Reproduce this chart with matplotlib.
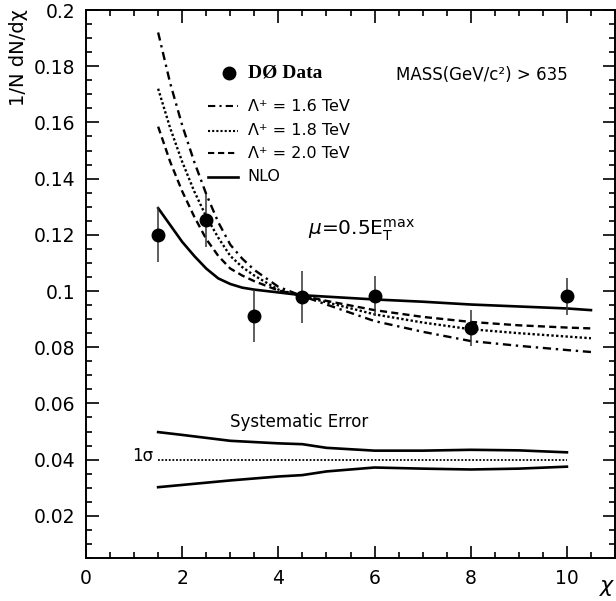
import matplotlib.pyplot as plt
import numpy as np

# D0 data points
chi_data = [1.5, 2.5, 3.5, 4.5, 6.0, 8.0, 10.0]
dndchi = [0.120, 0.1252, 0.0912, 0.0980, 0.0982, 0.0870, 0.0981]
dndchi_err = [0.0098, 0.0095, 0.0092, 0.0093, 0.0072, 0.0064, 0.0066]

# theory curves
chi_th = [1.5, 1.75, 2.0, 2.25, 2.5, 2.75, 3.0, 3.25, 3.5, 4.0, 4.5, 5.0, 6.0, 7.0, 8.0, 9.0, 10.0, 10.5]
lam16 = [0.192, 0.174, 0.159, 0.146, 0.1345, 0.1245, 0.1165, 0.1115, 0.1075, 0.1015, 0.0982, 0.0952, 0.0893, 0.0855, 0.0822, 0.0805, 0.0790, 0.0783]
lam18 = [0.172, 0.158, 0.146, 0.1355, 0.1265, 0.119, 0.1125, 0.1085, 0.1055, 0.1005, 0.0982, 0.0960, 0.0917, 0.0888, 0.0864, 0.0850, 0.0838, 0.0832]
lam20 = [0.1585, 0.146, 0.1355, 0.1265, 0.1185, 0.1125, 0.108, 0.1055, 0.1035, 0.1002, 0.0983, 0.0965, 0.0932, 0.0908, 0.0890, 0.0878, 0.0870, 0.0867]
nlo = [0.1295, 0.1235, 0.1175, 0.1125, 0.1080, 0.1045, 0.1025, 0.1012, 0.1005, 0.0995, 0.0985, 0.0980, 0.0970, 0.0962, 0.0952, 0.0945, 0.0938, 0.0932]

# systematic error band (drawn around 0.04)
chi_sys = [1.5, 2.0, 3.0, 4.0, 4.5, 5.0, 6.0, 7.0, 8.0, 9.0, 10.0]
sys_up = [0.0498, 0.0488, 0.0467, 0.0458, 0.0455, 0.0442, 0.0432, 0.0432, 0.0435, 0.0433, 0.0426]
sys_lo = [0.0302, 0.0310, 0.0326, 0.0340, 0.0345, 0.0358, 0.0372, 0.0368, 0.0365, 0.0368, 0.0375]
sys_center = 0.04

fig = plt.figure(figsize=(6.16, 6.01), dpi=100)
ax = fig.add_axes([86/616, 43/601, 529/616, 548/601])

ax.errorbar(chi_data, dndchi, yerr=dndchi_err, fmt='o', color='black', ms=9,
            elinewidth=1.1, ecolor='#333333', capsize=0, zorder=5)
ax.plot(chi_th, lam16, color='black', lw=1.7, dashes=(3.5, 2, 1, 2))
ax.plot(chi_th, lam18, color='black', lw=1.7, dashes=(1, 1))
ax.plot(chi_th, lam20, color='black', lw=1.7, dashes=(3, 1.8))
ax.plot(chi_th, nlo, color='black', lw=1.9)

ax.plot(chi_sys, sys_up, color='black', lw=1.9)
ax.plot(chi_sys, sys_lo, color='black', lw=1.9)
ax.plot([chi_sys[0], chi_sys[-1]], [sys_center, sys_center], color='black', lw=1.3, dashes=(1, 1))

# legend drawn by hand like the original
ax.plot([2.98], [0.1775], 'o', color='black', ms=9)
ax.text(3.36, 0.1775, 'DØ Data', fontsize=14, family='Liberation Serif', weight='bold', va='center')
leg = [((3.5, 2, 1, 2), 0.1657, 'Λ⁺ = 1.6 TeV'),
       ((1, 1), 0.1570, 'Λ⁺ = 1.8 TeV'),
       ((3, 1.8), 0.1490, 'Λ⁺ = 2.0 TeV'),
       (None, 0.1407, 'NLO')]
for d, yy, lab in leg:
    if d is None:
        ax.plot([2.53, 3.17], [yy, yy], color='black', lw=1.9)
    else:
        ax.plot([2.53, 3.17], [yy, yy], color='black', lw=1.5, dashes=d)
    ax.text(3.36, yy, lab, fontsize=11.5, va='center')

ax.text(6.45, 0.177, 'MASS(GeV/c²) > 635', fontsize=12, va='center')
ax.text(4.62, 0.1215, r'$\mu$=0.5E$_{\rm T}^{\rm max}$', fontsize=14.5, va='center')
ax.text(3.0, 0.0535, 'Systematic Error', fontsize=12, va='center')
ax.text(0.95, 0.0412, '1σ', fontsize=12, va='center')

ax.set_xlim(0, 11)
ax.set_ylim(0.005, 0.2)
ax.set_xticks([0, 2, 4, 6, 8, 10])
ax.set_xticks(np.arange(0, 11.01, 0.5), minor=True)
ax.set_yticks([0.02, 0.04, 0.06, 0.08, 0.1, 0.12, 0.14, 0.16, 0.18, 0.2])
ax.set_yticklabels(['0.02', '0.04', '0.06', '0.08', '0.1', '0.12', '0.14', '0.16', '0.18', '0.2'])
ax.set_yticks(np.arange(0.005, 0.2001, 0.005), minor=True)
ax.tick_params(which='both', direction='in', top=True, right=True, width=1.2)
ax.tick_params(which='major', length=9, labelsize=13.5, pad=8)
ax.tick_params(which='minor', length=4.5)
for s in ax.spines.values():
    s.set_linewidth(1.4)

fig.text(0.03, 0.985, '1/N dN/dχ', rotation=90, fontsize=14, va='top', ha='center')
fig.text(0.985, 0.025, 'χ', fontsize=16, style='italic', ha='center', va='center')

fig.savefig('out.png', dpi=100)
